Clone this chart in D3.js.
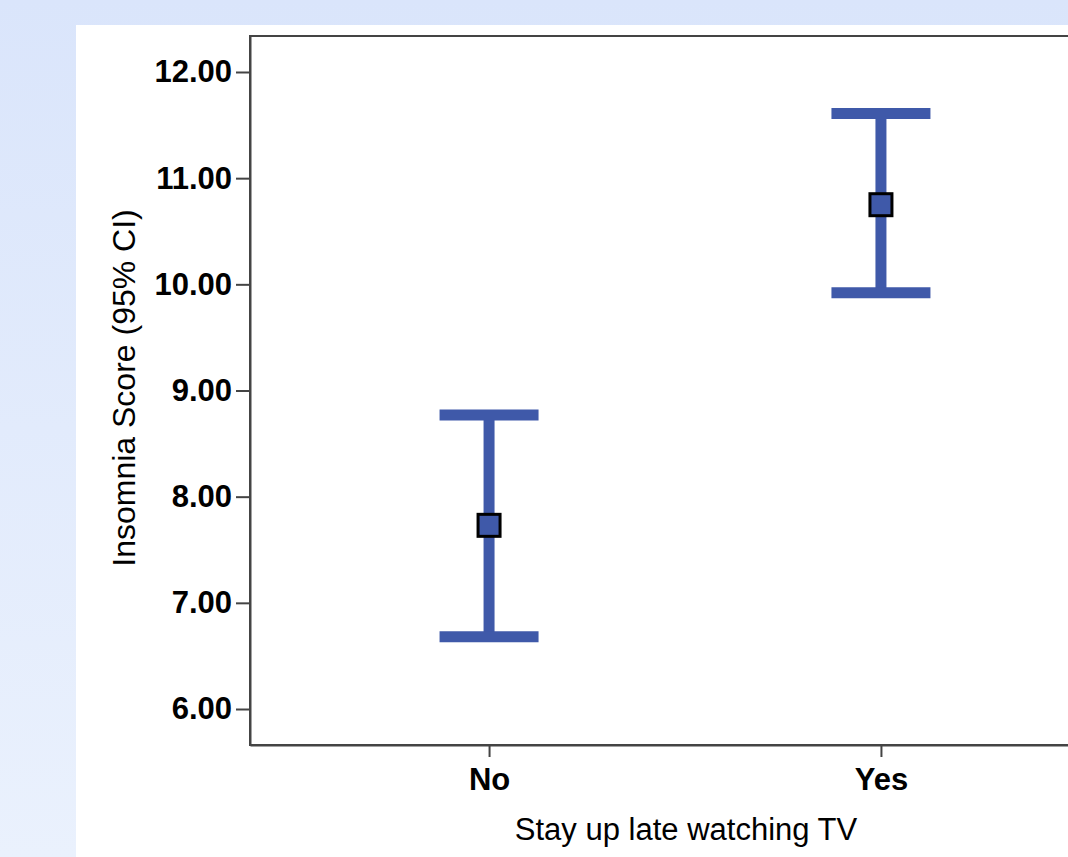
<!DOCTYPE html>
<html>
<head>
<meta charset="utf-8">
<script src="https://cdn.jsdelivr.net/npm/d3@7"></script>
<style>
  body { margin: 0; overflow: hidden; }
  text { font-family: "Liberation Sans", Arial, sans-serif; }
</style>
</head>
<body>
<div id="chart-area"></div>
<script>
// data
var groups = ["No", "Yes"];
var means = [7.73, 10.75];
var lower = [6.68, 9.92];
var upper = [8.77, 11.61];
var yTicks = [6, 7, 8, 9, 10, 11, 12];

var data = groups.map(function(g, i) {
  return { group: g, mean: means[i], lo: lower[i], hi: upper[i] };
});

// set the dimensions and margins of the graph
var margin = { top: 36, left: 250 },
  width = 870,
  height = 709;

var svg = d3.select("#chart-area")
  .append("svg")
  .attr("width", 1068)
  .attr("height", 857);

// page background (light blue gradient + white panel)
var grad = svg.append("defs").append("linearGradient")
  .attr("id", "bg").attr("x1", 0).attr("y1", 0).attr("x2", 0).attr("y2", 1);
grad.append("stop").attr("offset", "0%").attr("stop-color", "#dae5fb");
grad.append("stop").attr("offset", "100%").attr("stop-color", "#eaf1fd");
svg.append("rect").attr("width", 1068).attr("height", 857).attr("fill", "url(#bg)");
svg.append("rect").attr("x", 76).attr("y", 25).attr("width", 992).attr("height", 832).attr("fill", "#fff");

var g = svg.append("g")
  .attr("transform", "translate(" + margin.left + "," + margin.top + ")");

var x = d3.scalePoint()
  .domain(groups)
  .range([0, width])
  .padding(0.61);

var y = d3.scaleLinear()
  .domain([5.661, 12.339])
  .range([height, 0]);

// frame
g.append("rect")
  .attr("width", width)
  .attr("height", height)
  .attr("fill", "none")
  .attr("stroke", "#444")
  .attr("stroke-width", 2);

// Y axis
var yAxis = g.append("g")
  .call(d3.axisLeft(y).tickValues(yTicks).tickSizeInner(14).tickSizeOuter(0).tickPadding(4)
    .tickFormat(d3.format(".2f")));
yAxis.select(".domain").attr("stroke", "#444").attr("stroke-width", 2);
yAxis.selectAll(".tick line").attr("stroke", "#444").attr("stroke-width", 2);
yAxis.selectAll(".tick text")
  .attr("font-size", "31px")
  .attr("font-weight", "bold")
  .attr("fill", "#000")
  .style("font-family", "'Liberation Sans', Arial, sans-serif");

// X axis
var xAxis = g.append("g")
  .attr("transform", "translate(0," + height + ")")
  .call(d3.axisBottom(x).tickSizeInner(12).tickSizeOuter(0).tickPadding(11));
xAxis.select(".domain").attr("stroke", "#444").attr("stroke-width", 2);
xAxis.selectAll(".tick line").attr("stroke", "#444").attr("stroke-width", 2);
xAxis.selectAll(".tick text")
  .attr("font-size", "31px")
  .attr("font-weight", "bold")
  .attr("fill", "#000")
  .style("font-family", "'Liberation Sans', Arial, sans-serif");

// axis titles
svg.append("text")
  .attr("x", 686)
  .attr("y", 840)
  .attr("font-size", "31px")
  .attr("text-anchor", "middle")
  .text("Stay up late watching TV");

svg.append("text")
  .attr("transform", "translate(135,388) rotate(-90)")
  .attr("font-size", "32px")
  .attr("text-anchor", "middle")
  .text("Insomnia Score (95% CI)");

var blue = "#3f59a9";
var capW = 99;

var bars = g.append("g")
  .selectAll("g")
  .data(data)
  .enter()
  .append("g");

bars.append("line")
  .attr("x1", function(d) { return x(d.group); })
  .attr("x2", function(d) { return x(d.group); })
  .attr("y1", function(d) { return y(d.hi); })
  .attr("y2", function(d) { return y(d.lo); })
  .attr("stroke", blue)
  .attr("stroke-width", 11);

bars.selectAll(".cap")
  .data(function(d) { return [{ group: d.group, v: d.hi }, { group: d.group, v: d.lo }]; })
  .enter()
  .append("line")
  .attr("class", "cap")
  .attr("x1", function(d) { return x(d.group) - capW / 2; })
  .attr("x2", function(d) { return x(d.group) + capW / 2; })
  .attr("y1", function(d) { return y(d.v); })
  .attr("y2", function(d) { return y(d.v); })
  .attr("stroke", blue)
  .attr("stroke-width", 11);

bars.append("rect")
  .attr("x", function(d) { return x(d.group) - 11; })
  .attr("y", function(d) { return y(d.mean) - 11; })
  .attr("width", 22)
  .attr("height", 22)
  .attr("fill", blue)
  .attr("stroke", "#000")
  .attr("stroke-width", 3);
</script>
</body>
</html>
